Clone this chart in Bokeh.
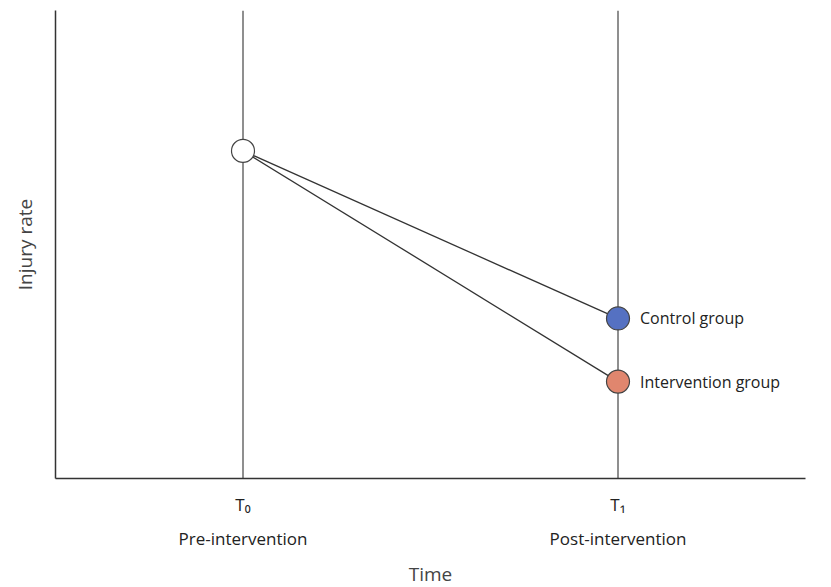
from bokeh.plotting import figure
from bokeh.models import Range1d, FixedTicker
from bokeh.core.properties import value
from bokeh.embed import file_html
from bokeh.resources import INLINE

times = [1, 3]
tick_labels = {1: "T₀\nPre-intervention", 3: "T₁\nPost-intervention"}
baseline = 7.0
groups = ["Control group", "Intervention group"]
post_values = [3.42, 2.07]
colors = ["#5571c2", "#e0866e"]

FONT = "Open Sans"
p = figure(frame_width=750, frame_height=468, min_border_left=55, min_border_top=10,
           min_border_right=10, min_border_bottom=0,
           x_range=Range1d(0, 4), y_range=Range1d(0, 10),
           output_backend="svg", toolbar_location=None)
p.outline_line_color = None
p.xgrid.visible = False
p.ygrid.visible = False
p.background_fill_color = "white"

for t in times:
    p.segment(x0=t, y0=0, x1=t, y1=10, line_color="#8f8f8f", line_width=2)

for v in post_values:
    p.segment(x0=times[0], y0=baseline, x1=times[1], y1=v, line_color="#333333", line_width=1.3)

p.scatter(x=[times[0]], y=[baseline], size=23, fill_color="white", line_color="#444444", line_width=1.2)
p.scatter(x=[times[1]] * 2, y=post_values, size=23, fill_color=colors, line_color="#444444", line_width=1.2)
p.text(x=[times[1]] * 2, y=post_values, text=groups, x_offset=22, text_baseline="middle",
       text_font=value(FONT), text_font_size="16px", text_color="#222222")

p.xaxis.ticker = FixedTicker(ticks=times)
p.xaxis.major_label_overrides = tick_labels
p.xaxis.major_tick_line_color = None
p.xaxis.minor_tick_line_color = None
p.xaxis.major_label_text_font = FONT
p.xaxis.major_label_text_font_size = "17px"
p.xaxis.major_label_text_line_height = 1.5
p.xaxis.major_label_text_color = "#222222"
p.xaxis.major_label_standoff = 8
p.xaxis.axis_label = "Time"
p.xaxis.axis_label_text_font = FONT
p.xaxis.axis_label_text_font_style = "normal"
p.xaxis.axis_label_text_font_size = "19px"
p.xaxis.axis_label_standoff = 8
p.xaxis.axis_line_color = "#333333"
p.xaxis.axis_line_width = 1.5

p.yaxis.ticker = FixedTicker(ticks=[])
p.yaxis.major_tick_line_color = None
p.yaxis.minor_tick_line_color = None
p.yaxis.axis_label = "Injury rate"
p.yaxis.axis_label_text_font = FONT
p.yaxis.axis_label_text_font_style = "normal"
p.yaxis.axis_label_text_font_size = "19px"
p.yaxis.axis_label_standoff = 18
p.yaxis.axis_line_color = "#333333"
p.yaxis.axis_line_width = 1.5

open("out.html", "w").write(file_html(p, INLINE))
